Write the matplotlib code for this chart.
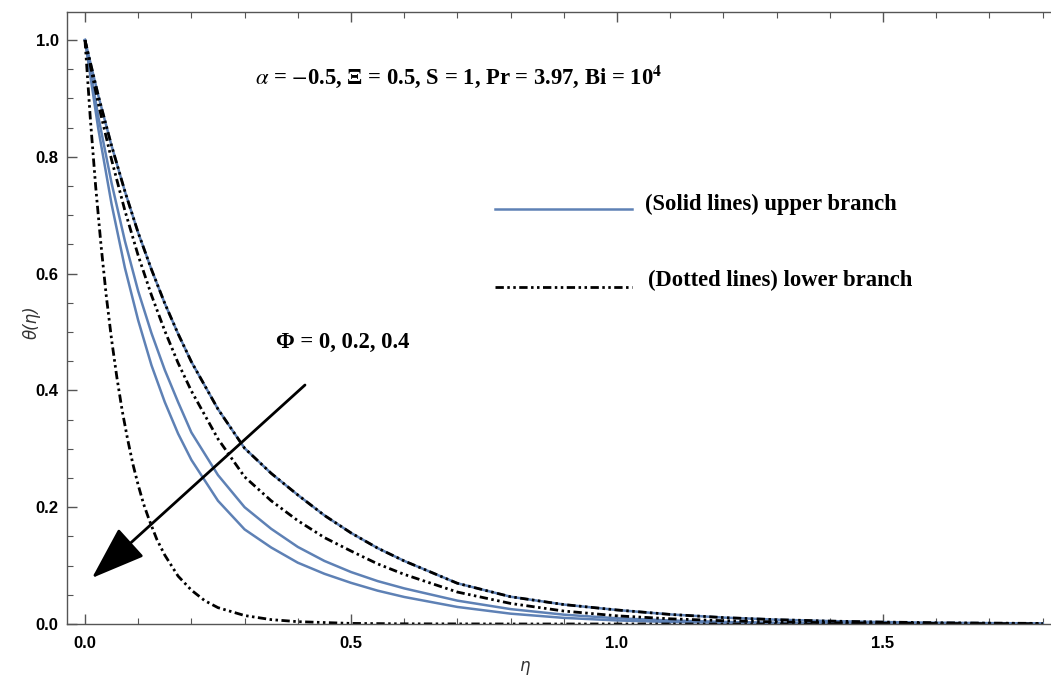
import matplotlib
matplotlib.use("Agg")
import matplotlib.pyplot as plt
from matplotlib.ticker import MultipleLocator

plt.rcParams["mathtext.fontset"] = "stix"
plt.rcParams["lines.scale_dashes"] = False

BLUE = "#5E81B5"
DASH = (0, (6, 2.5, 1.8, 2.5, 1.8, 2.5))

# eta grid
eta = [0.0, 0.025, 0.05, 0.075, 0.1, 0.125, 0.15, 0.175, 0.2, 0.25, 0.3, 0.35, 0.4, 0.45, 0.5,
       0.55, 0.6, 0.7, 0.8, 0.9, 1.0, 1.1, 1.2, 1.3, 1.4, 1.5, 1.6, 1.7, 1.8]

# upper branch (solid): Phi = 0, 0.2, 0.4
upper_phi0 = [1.0, 0.905, 0.819, 0.741, 0.670, 0.607, 0.549, 0.497, 0.449, 0.368, 0.301, 0.258, 0.221,
              0.186, 0.156, 0.130, 0.108, 0.0697, 0.0467, 0.0333, 0.024, 0.0164, 0.011, 0.0074, 0.005,
              0.0033, 0.0022, 0.0015, 0.001]
upper_phi02 = [1.0, 0.869, 0.755, 0.656, 0.570, 0.498, 0.435, 0.380, 0.328, 0.255, 0.200, 0.163, 0.132,
               0.108, 0.089, 0.0735, 0.061, 0.040, 0.0255, 0.016, 0.0098, 0.006, 0.0036, 0.0022,
               0.0013, 0.0008, 0.0005, 0.0003, 0.0002]
upper_phi04 = [1.0, 0.848, 0.719, 0.610, 0.520, 0.443, 0.380, 0.326, 0.281, 0.211, 0.162, 0.131, 0.105,
               0.086, 0.0705, 0.0571, 0.0463, 0.0292, 0.0177, 0.0105, 0.0061, 0.0035, 0.002, 0.0011,
               0.0006, 0.0004, 0.0002, 0.0001, 0.0001]

# lower branch (dash-dot): Phi = 0, 0.2, 0.4
lower_phi0 = upper_phi0
lower_phi02 = [1.0, 0.891, 0.795, 0.708, 0.631, 0.563, 0.502, 0.447, 0.399, 0.317, 0.252, 0.211, 0.177,
               0.148, 0.125, 0.103, 0.085, 0.0547, 0.0352, 0.0222, 0.014, 0.0089, 0.0056, 0.0035,
               0.0022, 0.0014, 0.0009, 0.0006, 0.0004]
eta_steep = [0.0, 0.01, 0.02, 0.03, 0.04, 0.05, 0.06, 0.07, 0.08, 0.09, 0.1, 0.11, 0.12, 0.135,
             0.15, 0.175, 0.2, 0.225, 0.25, 0.3, 0.35, 0.4, 0.5, 0.6, 0.8, 1.0, 1.4, 1.8]
lower_phi04 = [1.0, 0.866, 0.75, 0.65, 0.562, 0.487, 0.422, 0.365, 0.317, 0.274, 0.238, 0.206, 0.18,
               0.145, 0.118, 0.082, 0.058, 0.04, 0.028, 0.0145, 0.0075, 0.004, 0.001, 0.0003,
               0.0, 0.0, 0.0, 0.0]

fig = plt.figure(figsize=(10.51, 6.79), dpi=100)
ax = fig.add_axes([67 / 1051, 55 / 679, 984 / 1051, 612 / 679])

for y in (upper_phi0, upper_phi02, upper_phi04):
    ax.plot(eta, y, color=BLUE, lw=1.8, solid_joinstyle="round")
for x, y in ((eta, lower_phi0), (eta, lower_phi02), (eta_steep, lower_phi04)):
    ax.plot(x, y, color="black", lw=2.0, linestyle=DASH)

ax.set_xlim(-0.0338, 1.8158)
ax.set_ylim(0, 1.048)
ax.xaxis.set_major_locator(MultipleLocator(0.5))
ax.xaxis.set_minor_locator(MultipleLocator(0.1))
ax.yaxis.set_major_locator(MultipleLocator(0.2))
ax.yaxis.set_minor_locator(MultipleLocator(0.05))
ax.tick_params(which="both", direction="in", top=True, right=False, color="#555555")
ax.tick_params(which="major", length=7, width=1)
ax.tick_params(which="minor", length=4, width=0.8)
for lab in ax.get_xticklabels() + ax.get_yticklabels():
    lab.set_fontfamily("Liberation Sans")
    lab.set_fontweight("bold")
    lab.set_fontsize(12)
ax.tick_params(axis="x", pad=9)
ax.tick_params(axis="y", pad=6)
for side in ("left", "bottom", "top"):
    ax.spines[side].set_color("#555555")
    ax.spines[side].set_linewidth(1.0)
ax.spines["right"].set_visible(False)

serif = dict(family="Liberation Serif", fontweight="bold", fontsize=16.3)

fig.text(255 / 1051, 1 - 77 / 679,
         r"$\alpha$ = $-$0.5, Ξ = 0.5, S = 1, Pr = 3.97, Bi = 10$^{\mathbf{4}}$",
         ha="left", va="center", **serif)

# legend drawn by hand
ax.plot([(495 - 85) / 532, (632 - 85) / 532], [(624 - 209) / 584] * 2, color=BLUE, lw=1.8)
ax.plot([(495 - 85) / 532, (632 - 85) / 532], [(624 - 287) / 584] * 2, color="black", lw=2.0, linestyle=DASH)
fig.text(645 / 1051, 1 - 204 / 679, "(Solid lines) upper branch", ha="left", va="center", **serif)
fig.text(648 / 1051, 1 - 280 / 679, "(Dotted lines) lower branch", ha="left", va="center", **serif)

fig.text(276 / 1051, 1 - 342 / 679, "Φ = 0, 0.2, 0.4", ha="left", va="center", **serif)
ax.annotate("", xy=((92 - 85) / 532, (624 - 578) / 584), xytext=((305 - 85) / 532, (624 - 385) / 584),
            arrowprops=dict(arrowstyle="-|>,head_length=3.4,head_width=1.2", color="black", lw=2,
                            mutation_scale=10, shrinkA=0, shrinkB=0))

fig.text(524 / 1051, 1 - 666 / 679, "η", ha="center", va="center", fontsize=12, style="italic", color="#333333")
fig.text(32 / 1051, 1 - 322 / 679, "θ(η)", ha="center", va="center", rotation=90, fontsize=12,
         style="italic", color="#333333")

fig.savefig("out.png", dpi=100)
